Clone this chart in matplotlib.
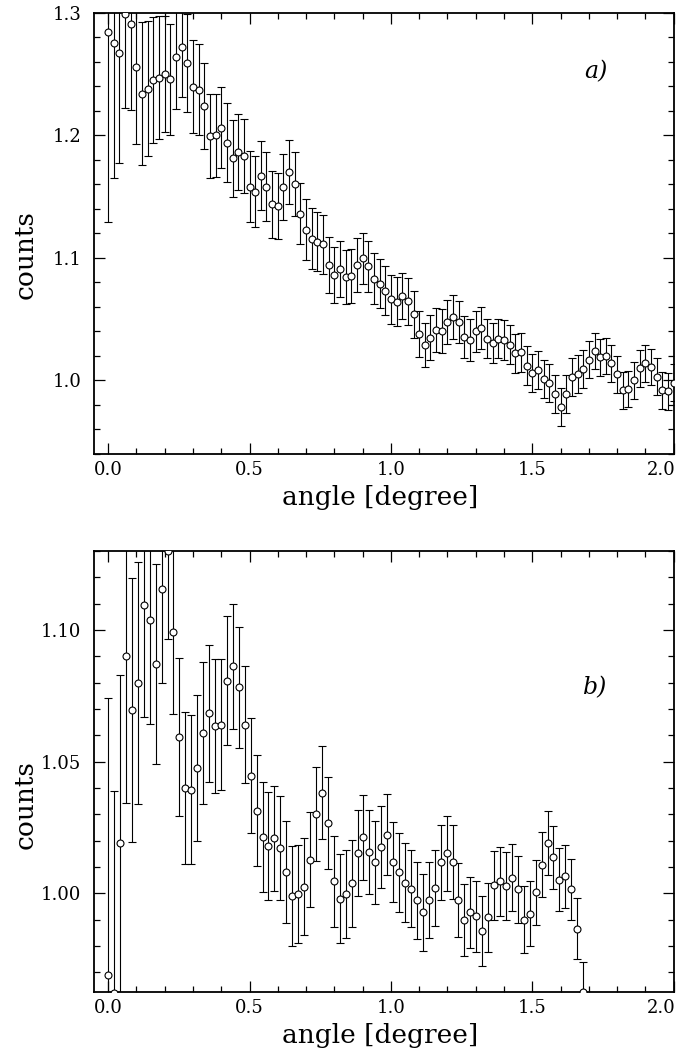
import numpy as np
import matplotlib
matplotlib.use("Agg")
import matplotlib.pyplot as plt
from matplotlib.ticker import MultipleLocator, FormatStrFormatter
from matplotlib.transforms import ScaledTranslation

plt.rcParams['font.family'] = ['DejaVu Serif']

# Panel a): counts vs angle, 0.0 .. 2.0 deg in 0.02 deg bins
angle_a = np.linspace(0.0, 2.0, 101)
counts_a = [
    1.284, 1.2755, 1.267, 1.299, 1.2905, 1.256, 1.234, 1.238, 1.245, 1.247,
    1.250, 1.2455, 1.264, 1.272, 1.259, 1.2395, 1.237, 1.224, 1.1995, 1.200,
    1.206, 1.194, 1.181, 1.186, 1.183, 1.158, 1.154, 1.167, 1.158, 1.1435,
    1.142, 1.158, 1.170, 1.1605, 1.136, 1.123, 1.1155, 1.113, 1.111, 1.094,
    1.086, 1.091, 1.084, 1.085, 1.094, 1.0996, 1.093, 1.083, 1.079, 1.073,
    1.066, 1.064, 1.069, 1.0645, 1.054, 1.038, 1.029, 1.035, 1.041, 1.040,
    1.0475, 1.0515, 1.0475, 1.0356, 1.0327, 1.040, 1.043, 1.034, 1.0305, 1.034,
    1.033, 1.029, 1.022, 1.023, 1.012, 1.006, 1.0085, 1.001, 0.998, 0.989,
    0.978, 0.989, 1.003, 1.005, 1.009, 1.017, 1.024, 1.019, 1.020, 1.014,
    1.005, 0.992, 0.993, 1.000, 1.010, 1.014, 1.011, 1.003, 0.992, 0.991,
    0.998,
]
err_a = [
    0.155, 0.110, 0.090, 0.077, 0.070, 0.063, 0.058, 0.055, 0.051, 0.050,
    0.047, 0.045, 0.043, 0.041, 0.040, 0.038, 0.037, 0.035, 0.034, 0.034,
    0.033, 0.032, 0.031, 0.031, 0.030, 0.029, 0.029, 0.028, 0.028, 0.027,
    0.027, 0.027, 0.026, 0.026, 0.025, 0.025, 0.025, 0.024, 0.024, 0.023,
    0.023, 0.023, 0.022, 0.022, 0.022, 0.021, 0.021, 0.021, 0.020, 0.020,
    0.020, 0.020, 0.019, 0.019, 0.019, 0.019, 0.018, 0.018, 0.018, 0.018,
    0.018, 0.018, 0.017, 0.017, 0.017, 0.017, 0.017, 0.016, 0.016, 0.016,
    0.016, 0.016, 0.016, 0.016, 0.016, 0.0155, 0.0155, 0.0155, 0.0155, 0.0155,
    0.0155, 0.0155, 0.0155, 0.0155, 0.0155, 0.015, 0.015, 0.015, 0.015, 0.015,
    0.015, 0.015, 0.015, 0.015, 0.015, 0.015, 0.015, 0.015, 0.015, 0.015,
    0.015,
]

# Panel b): 0.0 .. 1.68 deg in 0.021 deg bins
angle_b = np.linspace(0.0, 1.68, 81)
counts_b = [
    0.969, 0.962, 1.019, 1.0903, 1.0696, 1.0798, 1.1094, 1.1039, 1.0872, 1.1157,
    1.130, 1.0994, 1.0595, 1.040, 1.0393, 1.0476, 1.0608, 1.0683, 1.0636, 1.0641,
    1.0808, 1.0862, 1.0782, 1.0641, 1.0446, 1.0314, 1.0213, 1.0178, 1.0208, 1.0172,
    1.0081, 0.999, 0.9998, 1.0025, 1.0127, 1.030, 1.0382, 1.0268, 1.0045, 0.998,
    0.9998, 1.0038, 1.0154, 1.0213, 1.0157, 1.0117, 1.0177, 1.0223, 1.012, 1.008,
    1.004, 1.0018, 0.9973, 0.9927, 0.9975, 1.002, 1.0117, 1.0152, 1.012, 0.9974,
    0.9898, 0.9927, 0.9912, 0.9855, 0.9908, 1.003, 1.0045, 1.0026, 1.0059, 1.0015,
    0.990, 0.9923, 1.0003, 1.0108, 1.019, 1.0136, 1.0051, 1.0064, 1.0015, 0.9866,
    0.9625,
]
err_b = [
    0.105, 0.077, 0.064, 0.056, 0.050, 0.046, 0.0425, 0.0395, 0.038, 0.036,
    0.0335, 0.0315, 0.030, 0.029, 0.0283, 0.0277, 0.027, 0.026, 0.0254, 0.025,
    0.0245, 0.0238, 0.023, 0.0223, 0.0218, 0.021, 0.0209, 0.0205, 0.020, 0.0197,
    0.0193, 0.0189, 0.0186, 0.0183, 0.0181, 0.0179, 0.0177, 0.0175, 0.0172, 0.017,
    0.0168, 0.0166, 0.0164, 0.0162, 0.016, 0.0158, 0.0156, 0.0154, 0.0152, 0.0150,
    0.0149, 0.0148, 0.0147, 0.0146, 0.0145, 0.0144, 0.0143, 0.0142, 0.0141, 0.0140,
    0.0138, 0.0136, 0.0134, 0.0133, 0.0132, 0.0131, 0.0130, 0.0129, 0.0128, 0.0127,
    0.0126, 0.0125, 0.0124, 0.0123, 0.0122, 0.0121, 0.0120, 0.0119, 0.0117, 0.0116,
    0.0113,
]

fig = plt.figure(figsize=(6.82, 10.58), dpi=100)
ax_a = fig.add_axes([0.1378, 0.5709, 0.850, 0.4172])
ax_b = fig.add_axes([0.1378, 0.0624, 0.850, 0.4168])


def draw_panel(ax, x, y, e, ylim, ymaj, ymin, yfmt, tag, tag_y, lab_y):
    ax.errorbar(x, y, yerr=e, fmt='o', ms=5, mfc='white', mec='black', mew=0.8,
                ecolor='black', elinewidth=0.8, capsize=2.6, capthick=0.8, zorder=3)
    ax.set_xlim(-0.05, 2.0)
    ax.set_ylim(*ylim)
    ax.xaxis.set_major_locator(MultipleLocator(0.5))
    ax.xaxis.set_minor_locator(MultipleLocator(0.1))
    ax.yaxis.set_major_locator(MultipleLocator(ymaj))
    ax.yaxis.set_minor_locator(MultipleLocator(ymin))
    ax.xaxis.set_major_formatter(FormatStrFormatter('%.1f'))
    ax.yaxis.set_major_formatter(FormatStrFormatter(yfmt))
    ax.tick_params(which='both', direction='in', top=True, right=True,
                   labelsize=13, width=0.9)
    ax.tick_params(which='major', length=8)
    ax.tick_params(which='minor', length=4.5)
    ax.tick_params(axis='y', pad=9)
    ax.tick_params(axis='x', pad=5)
    for s in ax.spines.values():
        s.set_linewidth(1.3)
    ax.set_xlabel('angle [degree]', fontsize=19)
    ax.set_ylabel('counts', fontsize=19)
    ax.xaxis.set_label_coords(0.493, -0.07)
    ax.yaxis.set_label_coords(-0.098, lab_y)
    ax.text(0.865, tag_y, tag, transform=ax.transAxes, fontsize=17,
            style='italic', ha='center', va='center')


draw_panel(ax_a, angle_a, counts_a, err_a, (0.94, 1.3), 0.1, 0.02, '%.1f', 'a)', 0.866, 0.451)
draw_panel(ax_b, angle_b, counts_b, err_b, (0.9625, 1.13), 0.05, 0.01, '%.2f', 'b)', 0.689, 0.424)

# keep the "2.0" label at the right edge inside the figure
fig.canvas.draw()
for ax in (ax_a, ax_b):
    last = ax.xaxis.get_major_ticks()[-1]
    for t in ax.xaxis.get_major_ticks():
        if abs(t.get_loc() - 2.0) < 1e-9:
            last = t
    lab = last.label1
    lab.set_transform(lab.get_transform() + ScaledTranslation(-9 / 72, 0, fig.dpi_scale_trans))

fig.savefig('out.png', dpi=100)
